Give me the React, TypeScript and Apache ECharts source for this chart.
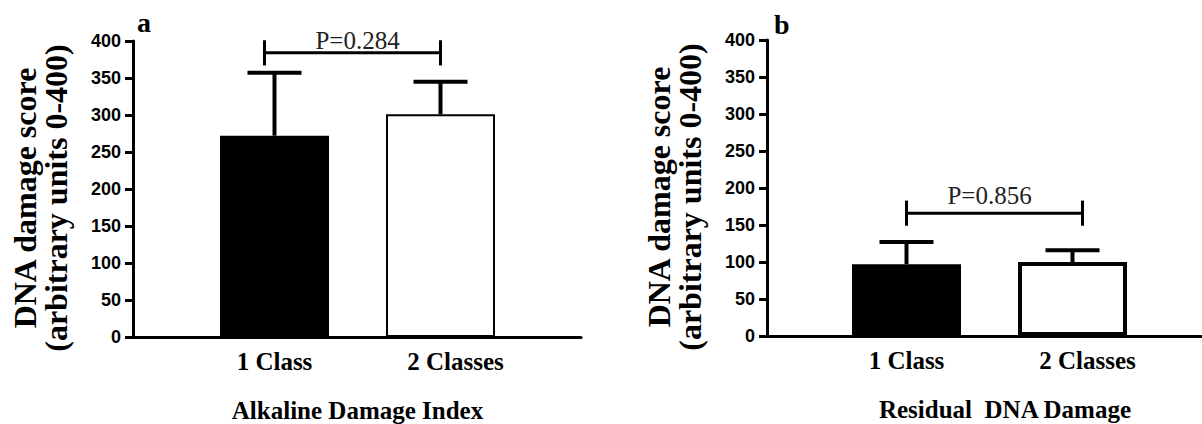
import React, { useEffect, useRef } from "react";
import * as echarts from "echarts";

const categories = ["1 Class", "2 Classes"];
const yTicks = [0, 400, 50]; // min, max, interval

// Panel a: Alkaline Damage Index
const alkMean = [272, 301];
const alkSD = [85, 44];
const alkPLabel = "P=0.284";
const alkBracket = [384, 17, 401]; // bracket y, tick half-height, label centre y

// Panel b: Residual DNA Damage
const resMean = [97, 100];
const resSD = [30, 16];
const resPLabel = "P=0.856";
const resBracket = [166, 17, 190];

const yName = "DNA damage score\n(arbitrary units 0-400)";
const SERIF = "'Liberation Serif', 'Times New Roman', serif";
const SANS = "'Liberation Sans', Arial, sans-serif";

type PanelCfg = {
  frame: { left: number; right: number; top: number; bottom: number };
  bars: { left: number; width: number };
  mean: number[];
  sd: number[];
  pLabel: string;
  bracket: number[];
  bracketOffsets: number[];
  xName: string;
  xNamePad: number;
  whiteBorder: number;
  label2Pad: number;
};

function buildPanel(idx: number, cfg: PanelCfg) {
  const gA = idx * 2;
  const gB = idx * 2 + 1;
  const grids = [
    {
      left: cfg.frame.left,
      right: cfg.frame.right,
      top: cfg.frame.top,
      bottom: cfg.frame.bottom,
      outerBoundsMode: "none",
      containLabel: false,
    },
    {
      left: cfg.bars.left,
      width: cfg.bars.width,
      top: cfg.frame.top,
      bottom: cfg.frame.bottom,
      outerBoundsMode: "none",
      containLabel: false,
    },
  ];
  const xAxes = [
    {
      gridIndex: gA,
      type: "value",
      min: 0,
      max: 1,
      axisLine: { show: true, onZero: false, lineStyle: { color: "#000", width: 3 } },
      axisTick: { show: false },
      axisLabel: { show: false },
      splitLine: { show: false },
    },
    {
      gridIndex: gB,
      type: "category",
      data: categories.map((c, i) =>
        i === 1 ? { value: c, textStyle: { padding: [0, 0, 0, cfg.label2Pad] } } : c
      ),
      axisLine: { show: false },
      axisTick: { show: false },
      axisLabel: {
        margin: 12,
        color: "#000",
        fontFamily: SERIF,
        fontWeight: "bold",
        fontSize: 25,
      },
      name: cfg.xName,
      nameLocation: "middle",
      nameGap: 61,
      nameTextStyle: {
        color: "#000",
        fontFamily: SERIF,
        fontWeight: "bold",
        fontSize: 25,
        padding: [0, 0, 0, cfg.xNamePad],
      },
    },
  ];
  const yAxes = [
    {
      gridIndex: gA,
      type: "value",
      min: yTicks[0],
      max: yTicks[1],
      interval: yTicks[2],
      axisLine: { show: true, onZero: false, lineStyle: { color: "#000", width: 3 } },
      axisTick: { show: true, length: 8, lineStyle: { color: "#000", width: 3 } },
      axisLabel: {
        margin: 12,
        color: "#000",
        fontFamily: SANS,
        fontWeight: "bold",
        fontSize: 18,
      },
      splitLine: { show: false },
      name: yName,
      nameLocation: "middle",
      nameGap: 62,
      nameTextStyle: {
        color: "#000",
        fontFamily: SERIF,
        fontWeight: "bold",
        fontSize: 32,
        lineHeight: 31,
        padding: [0, 18, 0, 0],
      },
    },
    {
      gridIndex: gB,
      type: "value",
      min: yTicks[0],
      max: yTicks[1],
      interval: yTicks[2],
      show: false,
    },
  ];

  const series: any[] = [
    {
      type: "bar",
      xAxisIndex: gB,
      yAxisIndex: gB,
      barWidth: 109,
      z: 2,
      data: cfg.mean.map((v, i) => ({
        value: v,
        itemStyle:
          i === 0
            ? { color: "#000", borderColor: "#000", borderWidth: 2 }
            : { color: "#fff", borderColor: "#000", borderWidth: cfg.whiteBorder },
      })),
    },
    {
      type: "custom",
      xAxisIndex: gB,
      yAxisIndex: gB,
      z: 3,
      encode: { x: 0, y: 1 },
      data: cfg.mean.map((m, i) => [i, m, cfg.sd[i]]),
      renderItem: (params: any, api: any) => {
        const i = api.value(0);
        const m = api.value(1);
        const s = api.value(2);
        const base = api.coord([i, m]);
        const top = api.coord([i, m + s]);
        const half = 27;
        return {
          type: "group",
          children: [
            {
              type: "line",
              shape: { x1: base[0], y1: base[1], x2: top[0], y2: top[1] },
              style: { stroke: "#000", lineWidth: 4 },
            },
            {
              type: "line",
              shape: { x1: top[0] - half, y1: top[1], x2: top[0] + half, y2: top[1] },
              style: { stroke: "#000", lineWidth: 4 },
            },
          ],
        };
      },
    },
    {
      type: "custom",
      xAxisIndex: gB,
      yAxisIndex: gB,
      z: 3,
      encode: { x: 0, y: 1 },
      data: [[0, cfg.bracket[0]]],
      renderItem: (params: any, api: any) => {
        const [by, th, ly] = cfg.bracket;
        const l = api.coord([0, by]);
        const r = api.coord([1, by]);
        const up = api.coord([0, by + th])[1];
        const down = api.coord([0, by - th])[1];
        const lab = api.coord([0, ly])[1];
        const x1 = l[0] + cfg.bracketOffsets[0];
        const x2 = r[0] + cfg.bracketOffsets[1];
        const mid = (l[0] + r[0]) / 2;
        const st = { stroke: "#000", lineWidth: 3 };
        return {
          type: "group",
          children: [
            { type: "line", shape: { x1, y1: l[1], x2, y2: l[1] }, style: st },
            { type: "line", shape: { x1, y1: up, x2: x1, y2: down }, style: st },
            { type: "line", shape: { x1: x2, y1: up, x2, y2: down }, style: st },
            {
              type: "text",
              x: mid,
              y: lab,
              style: {
                text: cfg.pLabel,
                align: "center",
                verticalAlign: "middle",
                fill: "#222",
                fontFamily: SERIF,
                fontSize: 25,
              },
            },
          ],
        };
      },
    },
  ];
  return { grids, xAxes, yAxes, series };
}

export default function App() {
  const ref = useRef<HTMLDivElement>(null);
  useEffect(() => {
    if (!ref.current) return;
    const chart = echarts.init(ref.current, null, { renderer: "svg" });
    const pa = buildPanel(0, {
      frame: { left: 133, right: 621, top: 41, bottom: 87 },
      bars: { left: 191.5, width: 332 },
      mean: alkMean,
      sd: alkSD,
      pLabel: alkPLabel,
      bracket: alkBracket,
      bracketOffsets: [-10, 0],
      xName: "Alkaline Damage Index",
      xNamePad: 0,
      whiteBorder: 2,
      label2Pad: 30,
    });
    const pb = buildPanel(1, {
      frame: { left: 767, right: 0, top: 40, bottom: 88 },
      bars: { left: 823.5, width: 332 },
      mean: resMean,
      sd: resSD,
      pLabel: resPLabel,
      bracket: resBracket,
      bracketOffsets: [0, 10],
      xName: "Residual  DNA Damage",
      xNamePad: 31,
      whiteBorder: 4,
      label2Pad: 30,
    });
    chart.setOption({
      animation: false,
      backgroundColor: "#fff",
      grid: [...pa.grids, ...pb.grids],
      xAxis: [...pa.xAxes, ...pb.xAxes],
      yAxis: [...pa.yAxes, ...pb.yAxes],
      series: [...pa.series, ...pb.series],
      graphic: [
        {
          type: "text",
          left: 137,
          top: 8,
          style: { text: "a", fill: "#000", fontFamily: SERIF, fontWeight: "bold", fontSize: 28 },
        },
        {
          type: "text",
          left: 774,
          top: 10,
          style: { text: "b", fill: "#000", fontFamily: SERIF, fontWeight: "bold", fontSize: 28 },
        },
      ],
    });
    return () => chart.dispose();
  }, []);
  return (
    <div
      ref={ref}
      style={{ position: "absolute", left: 0, top: 0, width: 1202, height: 424, background: "#fff" }}
    />
  );
}
